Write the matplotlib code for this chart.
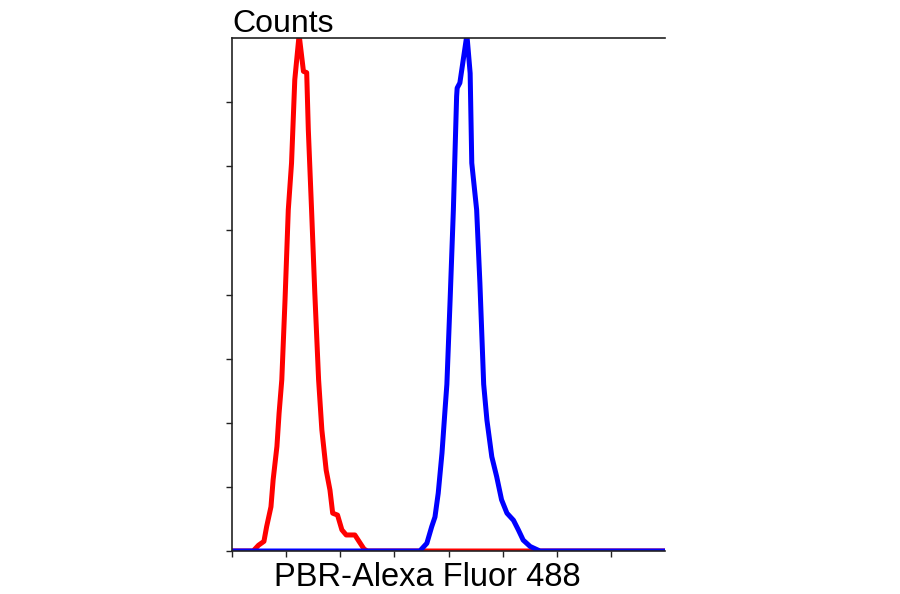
import numpy as np
import matplotlib
matplotlib.use('Agg')
import matplotlib.pyplot as plt

plt.rcParams['font.family'] = ['Liberation Sans', 'DejaVu Sans']

# red histogram (control)
red_x = [0.0, 0.39, 0.49, 0.59, 0.64, 0.72, 0.76, 0.83, 0.87, 0.92, 0.98, 1.04, 1.10,
         1.16, 1.24, 1.32, 1.38, 1.41, 1.47, 1.53, 1.60, 1.66, 1.74, 1.81, 1.86, 1.95,
         2.03, 2.11, 2.27, 2.37, 2.44, 2.50, 8.0]
red_y = [0.0, 0.0, 0.09, 0.15, 0.38, 0.69, 1.11, 1.63, 2.15, 2.67, 3.92, 5.32, 6.05,
         7.35, 8.05, 7.48, 7.46, 6.57, 5.32, 4.02, 2.67, 1.89, 1.26, 0.95, 0.59, 0.56,
         0.33, 0.25, 0.25, 0.12, 0.03, 0.0, 0.0]

# blue histogram (PBR stained)
blue_x = [0.0, 3.47, 3.60, 3.69, 3.75, 3.81, 3.88, 3.94, 3.97, 4.03, 4.09, 4.15, 4.16,
          4.21, 4.34, 4.40, 4.43, 4.52, 4.58, 4.65, 4.71, 4.80, 4.89, 4.98, 5.08, 5.20,
          5.29, 5.38, 5.51, 5.69, 8.0]
blue_y = [0.0, 0.0, 0.12, 0.38, 0.53, 0.90, 1.53, 2.25, 2.60, 3.92, 5.32, 7.09, 7.22,
          7.30, 8.05, 7.45, 6.05, 5.32, 4.18, 2.60, 2.04, 1.47, 1.16, 0.80, 0.59, 0.48,
          0.33, 0.17, 0.07, 0.0, 0.0]

x_ticks = [0, 1, 2, 3, 4, 5, 6, 7]
y_ticks = [0, 1, 2, 3, 4, 5, 6, 7]

fig = plt.figure(figsize=(9, 5.94), dpi=100)
ax = fig.add_axes([232/900, 1-551/594, 433/900, 513/594])

ax.plot(red_x, red_y, color='#ff0000', lw=3.6, solid_joinstyle='round')
ax.plot(blue_x, blue_y, color='#0000ff', lw=3.6, solid_joinstyle='round')

ax.set_xlim(0, 8)
ax.set_ylim(0, 8)
ax.set_xticks(x_ticks)
ax.set_yticks(y_ticks)
ax.set_xticklabels([])
ax.set_yticklabels([])
ax.tick_params(direction='out', length=4, width=1, colors='#222222')
ax.spines['right'].set_visible(False)
for s in ['left', 'top', 'bottom']:
    ax.spines[s].set_linewidth(1.2)
    ax.spines[s].set_color('#222222')

ax.text(0, 1 + 6/513, 'Counts', transform=ax.transAxes, fontsize=23,
        ha='left', va='baseline')
ax.text((427.5-232)/433, -35/513, 'PBR-Alexa Fluor 488', transform=ax.transAxes,
        fontsize=23.5, ha='center', va='baseline')

fig.savefig('out.png', dpi=100)
